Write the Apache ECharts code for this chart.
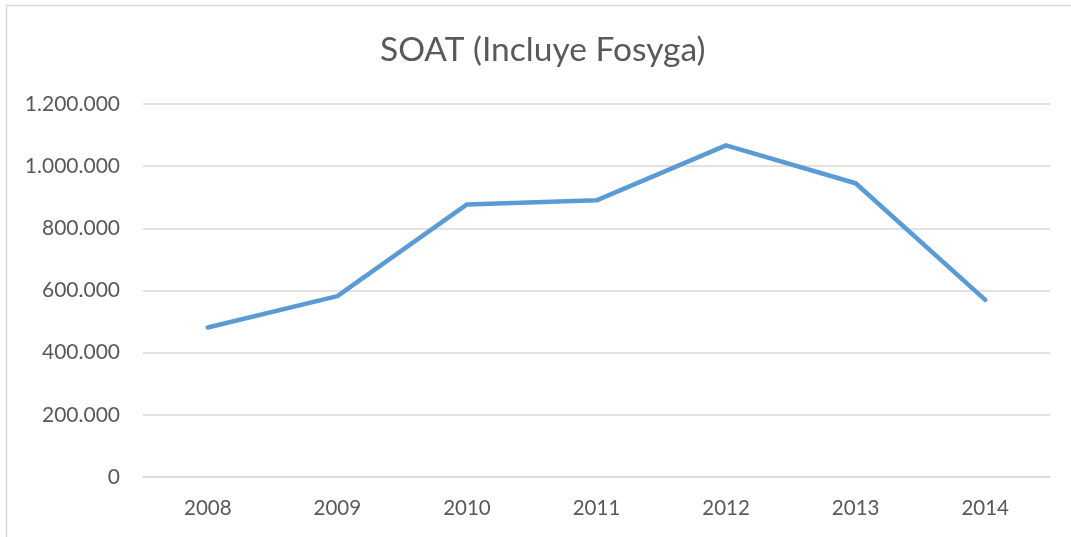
<!DOCTYPE html>
<html><head><meta charset="utf-8">
<script src="https://cdn.jsdelivr.net/npm/echarts@6/dist/echarts.min.js"></script>
<style>html,body{margin:0;padding:0;background:#fff}#c{width:1071px;height:537px}</style>
</head><body><div id="c"></div>
<script>
const categories = ['2008','2009','2010','2011','2012','2013','2014'];
const values = [481000, 582000, 877000, 890000, 1067000, 945000, 570000];
const titleText = 'SOAT (Incluye Fosyga)';
const fmt = v => v === 0 ? '0' : String(v).replace(/\B(?=(\d{3})+(?!\d))/g, '.');
const font = 'Lato, sans-serif';
const chart = echarts.init(document.getElementById('c'));
chart.setOption({
  animation: false,
  backgroundColor: '#fff',
  graphic: [{type:'rect', shape:{x:6.5,y:5.5,width:1100,height:600}, style:{fill:'none', stroke:'#D9D9D9', lineWidth:1.5}, silent:true}],
  title: {text: titleText, left: 375, top: 28, textStyle:{fontFamily:font, fontSize:33.5, fontWeight:'normal', color:'#595959'}},
  grid: {left: 143, right: 21, top: 104, bottom: 60, containLabel:false},
  xAxis: {type:'category', data: categories, boundaryGap:true,
    axisLine:{show:true, lineStyle:{color:'#D9D9D9', width:1.5}}, axisTick:{show:false},
    axisLabel:{color:'#595959', fontFamily:font, fontSize:20.5, margin:21}},
  yAxis: {type:'value', min:0, max:1200000, interval:200000,
    axisLine:{show:false}, axisTick:{show:false},
    splitLine:{lineStyle:{color:'#D9D9D9', width:1.5}},
    axisLabel:{color:'#595959', fontFamily:font, fontSize:21, margin:23, formatter: fmt}},
  series: [{type:'line', data: values, symbol:'none', lineStyle:{color:'#5B9BD5', width:4.5, cap:'round', join:'round'}}]
});
</script></body></html>
